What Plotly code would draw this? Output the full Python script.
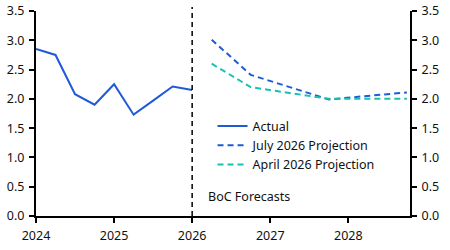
import plotly.graph_objects as go

actual_x = [2024.0, 2024.25, 2024.5, 2024.75, 2025.0, 2025.25, 2025.5, 2025.75, 2026.0]
actual_y = [2.85, 2.75, 2.08, 1.90, 2.25, 1.73, 1.97, 2.21, 2.15]

july_x = [2026.25, 2026.75, 2027.75, 2028.75]
july_y = [3.01, 2.41, 1.99, 2.11]

april_x = [2026.25, 2026.75, 2027.75, 2028.75]
april_y = [2.60, 2.20, 2.00, 2.00]

x_ticks = [2024, 2025, 2026, 2027, 2028]
y_ticks = [0.0, 0.5, 1.0, 1.5, 2.0, 2.5, 3.0, 3.5]

FONT = "Noto Sans"
FS = 12.5
BLUE = "#1f5bd6"
TEAL = "#17c2b0"

fig = go.Figure()
fig.add_trace(go.Scatter(x=actual_x, y=actual_y, mode="lines", name="Actual",
                         line=dict(color=BLUE, width=2)))
fig.add_trace(go.Scatter(x=july_x, y=july_y, mode="lines", name="July 2026 Projection",
                         line=dict(color=BLUE, width=2, dash="6px,4px")))
fig.add_trace(go.Scatter(x=april_x, y=april_y, mode="lines", name="April 2026 Projection",
                         line=dict(color=TEAL, width=2, dash="6px,4px")))
# invisible trace for right axis
fig.add_trace(go.Scatter(x=[2024], y=[0], yaxis="y2", mode="lines", showlegend=False,
                         line=dict(width=0), hoverinfo="skip"))

fig.add_shape(type="line", xref="x", yref="paper", x0=2026, x1=2026, y0=0, y1=1.02,
              line=dict(color="black", width=1.5, dash="5px,4px"))
fig.add_annotation(x=2026.18, y=0.33, xref="x", yref="y", text="BoC Forecasts",
                   showarrow=False, xanchor="left", yanchor="middle",
                   font=dict(family=FONT, size=FS, color="#111"))

axis_common = dict(showgrid=False, zeroline=False, showline=True, linecolor="black",
                   linewidth=2, ticks="outside", ticklen=5, tickwidth=1.5, tickcolor="black",
                   ticklabelstandoff=2, automargin=False,
                   tickfont=dict(family=FONT, size=FS, color="#111"))

fig.update_layout(
    width=450, height=250,
    margin=dict(l=36, r=40, t=11, b=34),
    paper_bgcolor="white", plot_bgcolor="white",
    showlegend=True,
    legend=dict(x=0.472, y=0.51, xanchor="left", yanchor="top",
                bgcolor="rgba(0,0,0,0)", font=dict(family=FONT, size=FS, color="#111"),
                tracegroupgap=0),
    xaxis=dict(range=[2024, 2028.79], tickvals=x_ticks, ticktext=[str(t) for t in x_ticks],
               **axis_common),
    yaxis=dict(range=[0, 3.5], tickvals=y_ticks, ticktext=[f"{v:.1f}" for v in y_ticks],
               **axis_common),
    yaxis2=dict(range=[0, 3.5], tickvals=y_ticks, ticktext=[f"{v:.1f}" for v in y_ticks],
                overlaying="y", side="right", **axis_common),
)

fig.write_html("out.html")
